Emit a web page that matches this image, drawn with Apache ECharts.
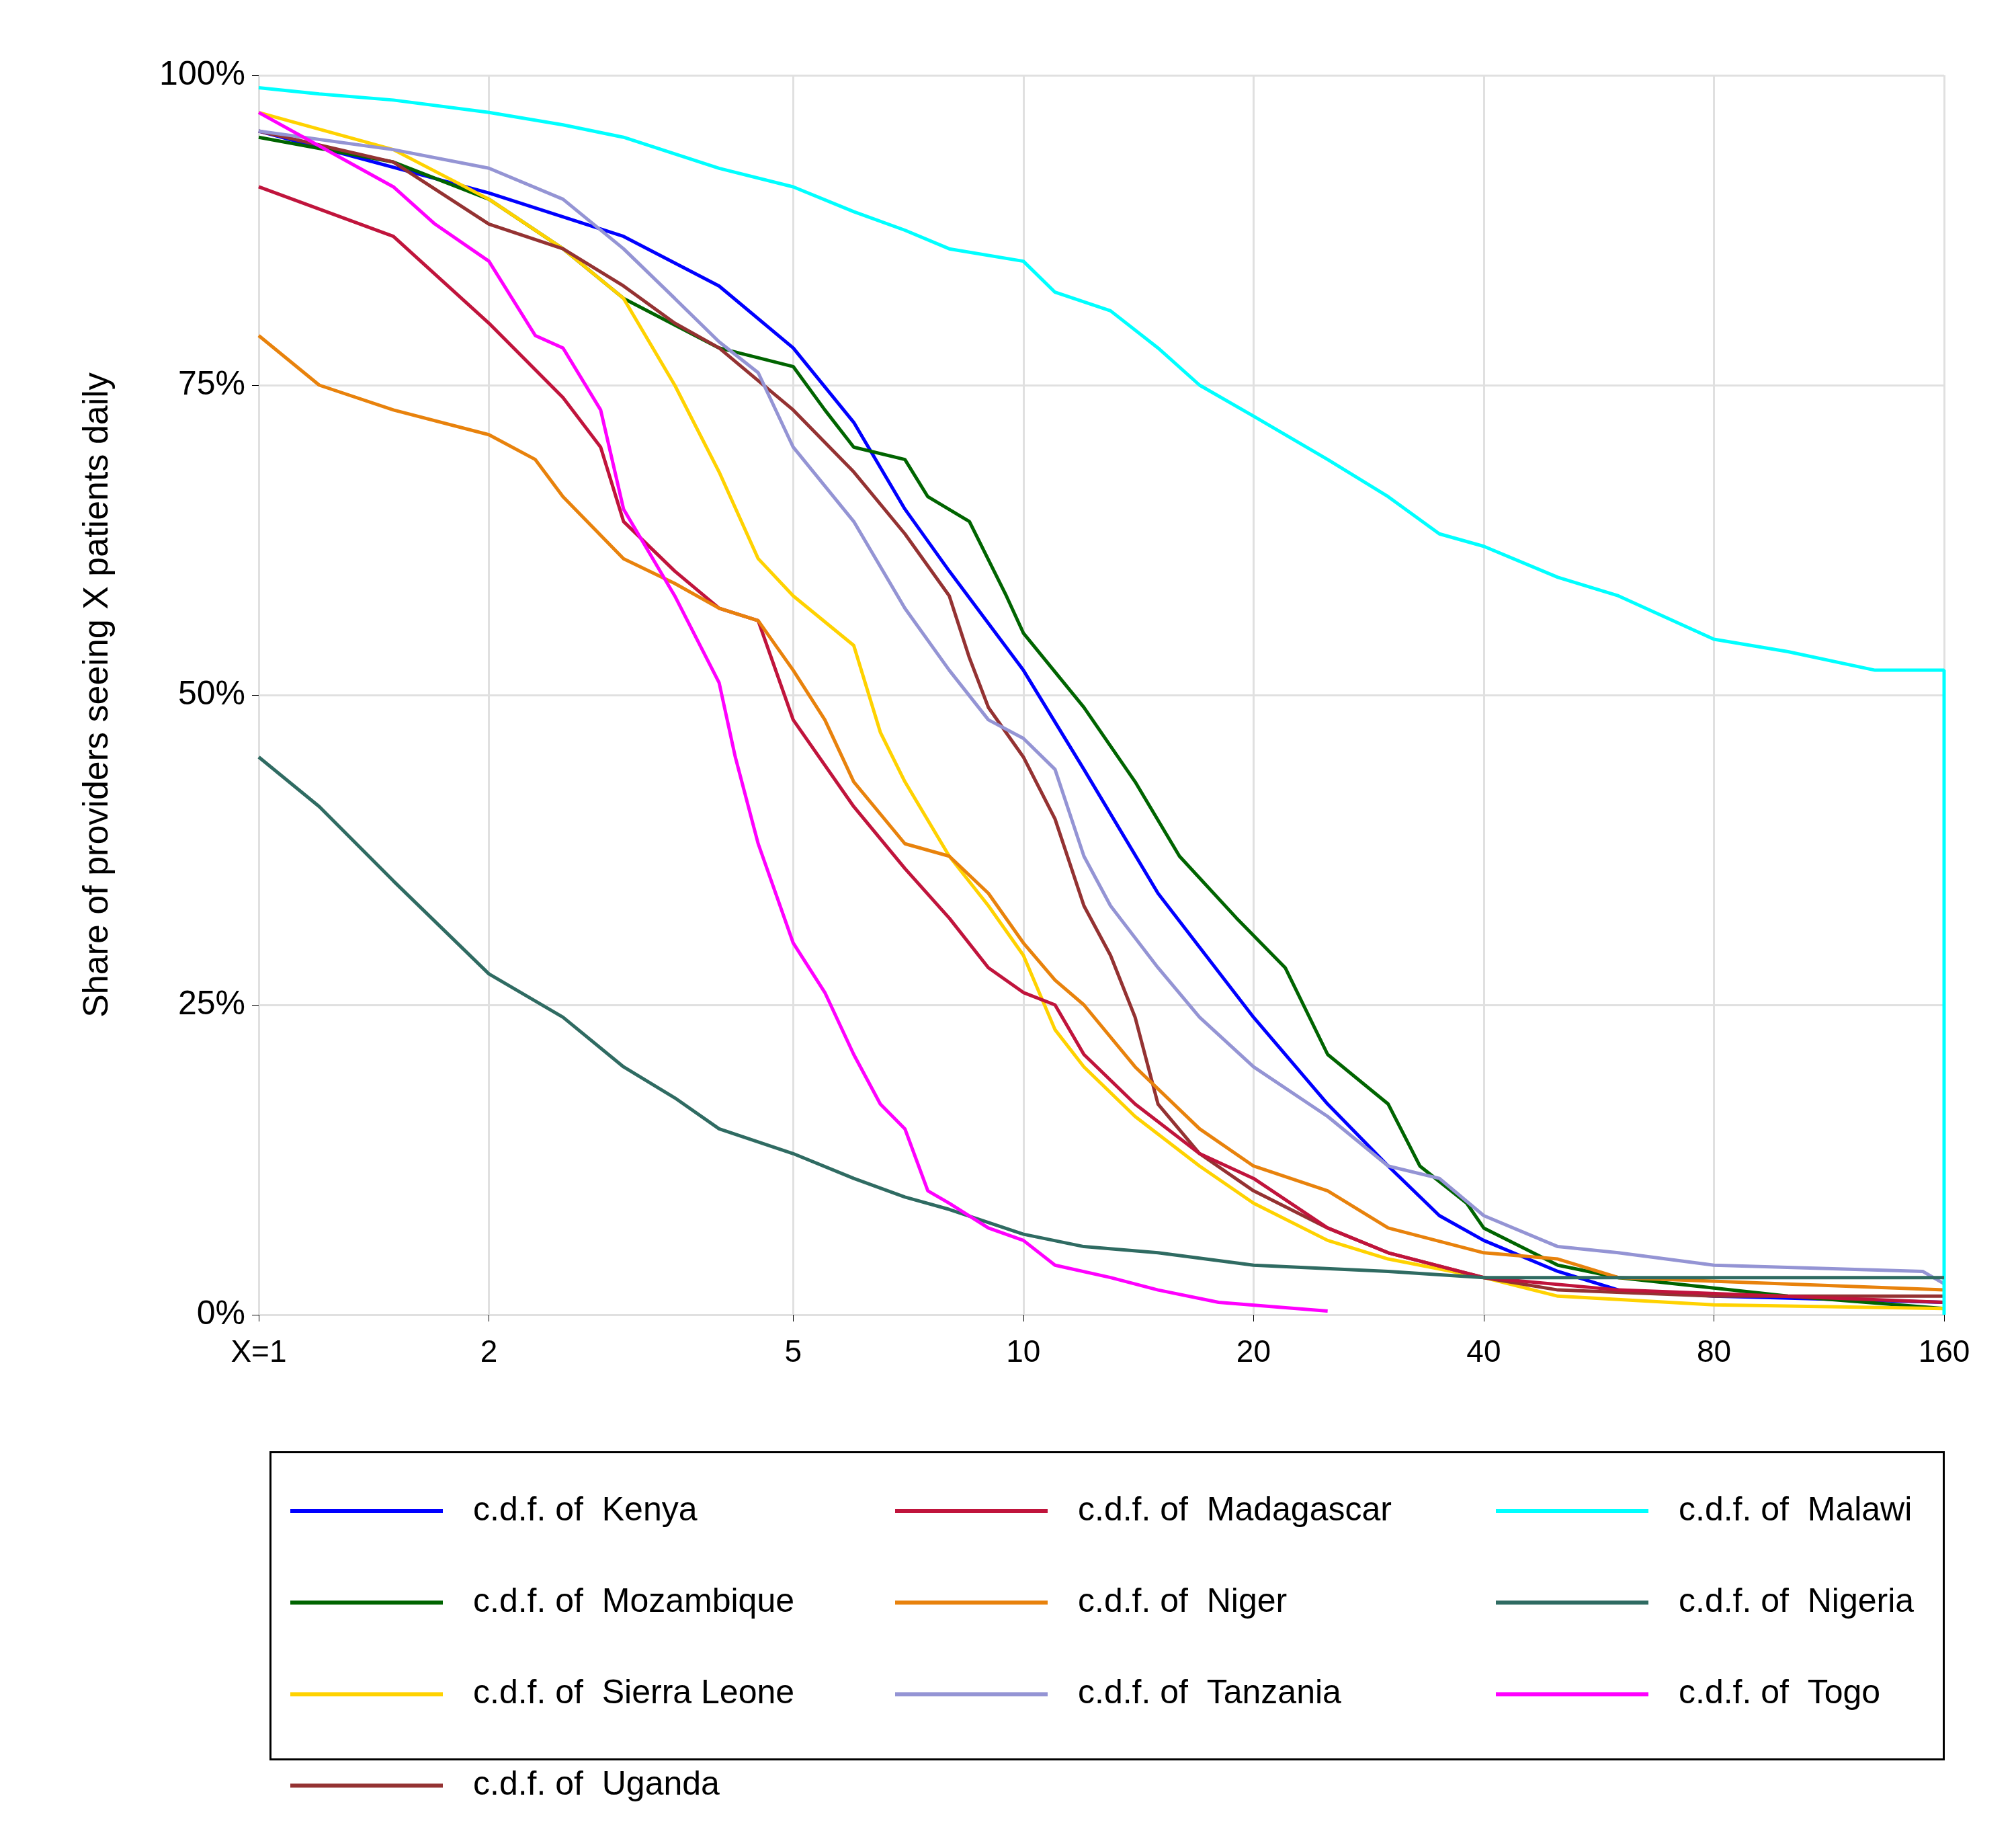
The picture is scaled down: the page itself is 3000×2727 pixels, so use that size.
<!doctype html>
<html>
<head>
<script src="https://cdn.jsdelivr.net/npm/echarts@6/dist/echarts.min.js"></script>
</head>
<body style="margin:0">
<div id="chart" style="width:3000px;height:2727px;"></div>
<script>
// X = patients per day, Y = share of providers (%)
var kenyaX = [1,2,3,4,5,6,7,8,10,12,15,20,25,30,35,40,50,60,80,160];
var kenyaY = [95.5,90.5,87,83,78,72,65,60,52,44,34,24,17,12,8,6,3.5,2,1.5,1];
var mozX = [1,1.5,2,2.5,3,4,5,5.5,6,7,7.5,8.5,9.5,10,12,14,16,19,22,25,30,33,38,40,50,60,100,160];
var mozY = [95,93,90,86,82,78,76.5,73,70,69,66,64,58,55,49,43,37,32,28,21,17,12,9,7,4,3,1.5,0.5];
var sleX = [1,1.5,2,2.5,3,3.5,4,4.5,5,6,6.5,7,8,9,10,11,12,14,17,20,25,30,40,50,80,160];
var sleY = [97,94,90,86,82,75,68,61,58,54,47,43,37,33,29,23,20,16,12,9,6,4.5,3,1.5,0.8,0.5];
var ugaX = [1,1.5,2,2.5,3,3.5,4,5,6,7,8,8.5,9,10,11,12,13,14,15,17,20,25,30,40,50,80,160];
var ugaY = [95.5,93,88,86,83,80,78,73,68,63,58,53,49,45,40,33,29,24,17,13,10,7,5,3,2,1.5,1.5];
var madX = [1,1.5,2,2.5,2.8,3,3.5,4,4.5,5,6,7,8,9,10,11,12,14,17,20,25,30,40,60,160];
var madY = [91,87,80,74,70,64,60,57,56,48,41,36,32,28,26,25,21,17,13,11,7,5,3,2,1];
var nigerX = [1,1.2,1.5,2,2.3,2.5,3,3.5,4,4.5,5,5.5,6,7,8,9,10,11,12,14,17,20,25,30,40,50,60,160];
var nigerY = [79,75,73,71,69,66,61,59,57,56,52,48,43,38,37,34,30,27,25,20,15,12,10,7,5,4.5,3,2];
var malX = [1,1.2,1.5,2,2.5,3,4,5,6,7,8,10,11,13,15,17,20,25,30,35,40,50,60,80,100,130,160,160];
var malY = [99,98.5,98,97,96,95,92.5,91,89,87.5,86,85,82.5,81,78,75,72.5,69,66,63,62,59.5,58,54.5,53.5,52,52,0];
var ngaX = [1,1.2,1.5,2,2.5,3,3.5,4,5,6,7,8,10,12,15,20,30,40,160];
var ngaY = [45,41,35,27.5,24,20,17.5,15,13,11,9.5,8.5,6.5,5.5,5,4,3.5,3,3];
var tzaX = [1,1.5,2,2.5,3,3.5,4,4.5,5,6,7,8,9,10,11,12,13,15,17,20,25,30,35,40,50,60,80,150,160];
var tzaY = [95.5,94,92.5,90,86,82,78.5,76,70,64,57,52,48,46.5,44,37,33,28,24,20,16,12,11,8,5.5,5,4,3.5,2.5];
var togoX = [1,1.5,1.7,2,2.3,2.5,2.8,3,3.5,4,4.2,4.5,5,5.5,6,6.5,7,7.5,8,9,10,11,13,15,18,25];
var togoY = [97,91,88,85,79,78,73,65,58,51,45,38,30,26,21,17,15,10,9,7,6,4,3,2,1,0.3];
var tickValues = [1,2,5,10,20,40,80,160];

var defs = [
  ['Kenya', kenyaX, kenyaY, '#0000ff'],
  ['Mozambique', mozX, mozY, '#006400'],
  ['Sierra Leone', sleX, sleY, '#ffd200'],
  ['Uganda', ugaX, ugaY, '#943232'],
  ['Madagascar', madX, madY, '#c0143c'],
  ['Niger', nigerX, nigerY, '#e8820c'],
  ['Tanzania', tzaX, tzaY, '#9494d4'],
  ['Malawi', malX, malY, '#00ffff'],
  ['Nigeria', ngaX, ngaY, '#2f6b62'],
  ['Togo', togoX, togoY, '#ff00ff']
];
function nm(c) { return 'c.d.f. of  ' + c; }

var series = defs.map(function (d) {
  return {
    name: nm(d[0]), type: 'line', showSymbol: false,
    lineStyle: { width: 5, color: d[3] }, itemStyle: { color: d[3] },
    data: d[1].map(function (x, i) { return [Math.log10(x), d[2][i]]; })
  };
});
var logTicks = tickValues.map(function (v) { return Math.log10(v); });

function legendCol(names, left) {
  return {
    orient: 'vertical', left: left, top: 2200, itemGap: 50,
    itemWidth: 227, itemHeight: 6, icon: 'rect',
    textStyle: { fontSize: 50, color: '#000', fontFamily: 'Liberation Sans', padding: [0, 0, 0, 40], lineHeight: 60 },
    data: names.map(nm)
  };
}

var chart = echarts.init(document.getElementById('chart'));
chart.setOption({
  animation: false,
  textStyle: { fontFamily: 'Liberation Sans' },
  grid: { left: 385, right: 107, top: 112, bottom: 771 },
  xAxis: {
    type: 'value', min: 0, max: Math.log10(160),
    axisLine: { show: false },
    axisTick: { show: true, customValues: logTicks, length: 10, lineStyle: { color: '#000' } },
    axisLabel: {
      customValues: logTicks, fontSize: 46, color: '#000', margin: 18,
      formatter: function (v) { var x = Math.round(Math.pow(10, v)); return x === 1 ? 'X=1' : String(x); }
    },
    splitLine: { show: true, lineStyle: { color: '#e0e0e0', width: 3 } }
  },
  yAxis: {
    type: 'value', min: 0, max: 100, interval: 25,
    name: 'Share of providers seeing X patients daily', nameLocation: 'middle', nameGap: 195,
    nameTextStyle: { fontSize: 52, color: '#000' },
    axisLine: { show: false },
    axisTick: { show: true, length: 10, lineStyle: { color: '#000' } },
    axisLabel: { fontSize: 50, color: '#000', formatter: '{value}%', margin: 20 },
    splitLine: { lineStyle: { color: '#e0e0e0', width: 3 } }
  },
  legend: [
    legendCol(['Kenya', 'Mozambique', 'Sierra Leone', 'Uganda'], 427),
    legendCol(['Madagascar', 'Niger', 'Tanzania'], 1327),
    legendCol(['Malawi', 'Nigeria', 'Togo'], 2221)
  ],
  graphic: [{
    type: 'rect', left: 400, top: 2158,
    shape: { width: 2490, height: 457 },
    style: { fill: 'none', stroke: '#000', lineWidth: 3 }
  }],
  series: series
});
</script>
</body>
</html>
